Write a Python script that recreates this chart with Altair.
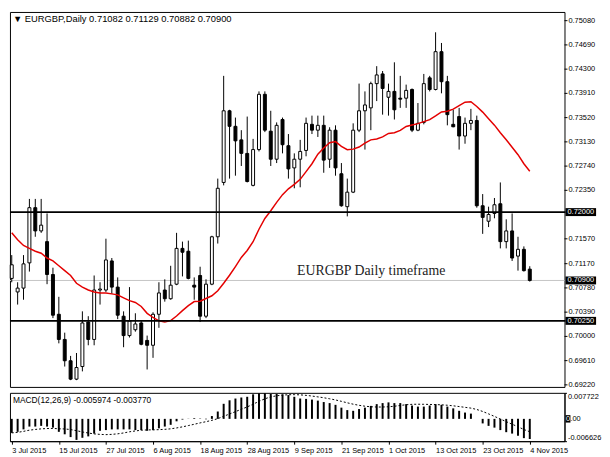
import altair as alt
import pandas as pd

# ---------------- data ----------------
opens = [0.70933,0.70715,0.70777,0.71183,0.72071,0.71697,0.71525,0.70996,0.70356,0.69951,
         0.69608,0.69312,0.69515,0.70231,0.69951,0.70746,0.70746,0.71214,0.70793,0.70325,
         0.70013,0.70107,0.70216,0.69935,0.69857,0.70356,0.70746,0.70606,0.70840,0.71416,
         0.71370,0.70824,0.70980,0.70325,0.70840,0.71603,0.72477,0.73630,0.73380,0.73162,
         0.72944,0.72430,0.73006,0.73895,0.73302,0.72851,0.73490,0.73068,0.72711,0.72851,
         0.72992,0.73412,0.73318,0.73396,0.72851,0.73318,0.72617,0.72087,0.72321,0.73318,
         0.73630,0.73677,0.74067,0.74223,0.73848,0.73942,0.73833,0.73833,0.73973,0.73318,
         0.73443,0.74160,0.73973,0.74581,0.74098,0.73412,0.73537,0.73224,0.73428,0.73474,
         0.72102,0.71853,0.71978,0.72134,0.71525,0.71697,0.71292,0.71401,0.71082]
highs = [0.71308,0.70871,0.71308,0.72212,0.72212,0.72212,0.71978,0.71105,0.70637,0.70060,
         0.69686,0.69733,0.70403,0.70325,0.70980,0.70871,0.71572,0.71261,0.70949,0.70403,
         0.70793,0.70372,0.70263,0.70013,0.70388,0.70871,0.70918,0.71136,0.71666,0.71525,
         0.71541,0.70949,0.71121,0.70918,0.71619,0.72539,0.74192,0.73646,0.73521,0.73318,
         0.73537,0.73178,0.73942,0.73942,0.73630,0.73443,0.73521,0.73256,0.72945,0.73162,
         0.73521,0.73552,0.73552,0.73552,0.73365,0.73396,0.72789,0.72539,0.73428,0.74067,
         0.73942,0.74098,0.74348,0.74270,0.74067,0.74410,0.74192,0.74051,0.73989,0.73755,
         0.74223,0.74192,0.74893,0.74721,0.74192,0.73646,0.73677,0.73521,0.73661,0.73552,
         0.72290,0.72087,0.72227,0.72477,0.71884,0.71978,0.71603,0.71448,0.71129]
lows = [0.70871,0.70512,0.70590,0.71043,0.71603,0.71666,0.70840,0.70294,0.69888,0.69515,
        0.69296,0.69296,0.69437,0.69857,0.69857,0.70512,0.70715,0.70684,0.70278,0.69826,
        0.69982,0.70076,0.69857,0.69468,0.69655,0.70138,0.70559,0.70590,0.70824,0.70965,
        0.70918,0.70590,0.70231,0.70294,0.70824,0.71494,0.72430,0.72539,0.72586,0.72742,
        0.72477,0.72414,0.72976,0.73287,0.72742,0.72789,0.72945,0.72539,0.72383,0.72399,
        0.72898,0.73256,0.73209,0.72633,0.72711,0.72586,0.72087,0.71931,0.72306,0.73287,
        0.73006,0.73318,0.73786,0.73568,0.73552,0.73490,0.73677,0.73677,0.73287,0.73302,
        0.73412,0.73942,0.73958,0.73911,0.73396,0.73365,0.73006,0.73100,0.73318,0.72071,
        0.71650,0.71759,0.71900,0.71416,0.71416,0.71214,0.71058,0.71043,0.70882]
closes = [0.71152,0.70777,0.71167,0.72071,0.71697,0.71790,0.70996,0.70341,0.69951,0.69608,
          0.69312,0.69499,0.70216,0.69951,0.70746,0.70762,0.71230,0.70793,0.70341,0.70013,
          0.70247,0.70200,0.69873,0.69857,0.70356,0.70699,0.70606,0.70824,0.71416,0.71354,
          0.70933,0.70793,0.70325,0.70840,0.71603,0.72383,0.73630,0.73380,0.73146,0.72945,
          0.72492,0.73006,0.73895,0.73318,0.72851,0.73396,0.73084,0.72695,0.72851,0.72976,
          0.73428,0.73318,0.73396,0.72836,0.73318,0.72711,0.72102,0.72321,0.73318,0.73630,
          0.73724,0.74067,0.74207,0.73989,0.73942,0.73646,0.73817,0.73958,0.73318,0.73428,
          0.74067,0.73973,0.74581,0.74098,0.73568,0.73373,0.73224,0.73428,0.73474,0.72102,
          0.71915,0.71962,0.72118,0.71525,0.71697,0.71261,0.71401,0.71058,0.70900]
# 20-period MA values for the first 19 bars (history before the visible window)
ma_head = [0.71666,0.71556,0.71463,0.71416,0.71370,0.71339,0.71261,0.71214,0.71136,0.71058,
           0.70980,0.70855,0.70793,0.70746,0.70715,0.70699,0.70699,0.70684,0.70668]
macd_hist = [-0.00416,-0.00385,-0.00312,-0.00229,-0.00229,-0.00208,-0.00229,-0.00260,-0.00385,-0.00458,
             -0.00541,-0.00624,-0.00562,-0.00520,-0.00437,-0.00354,-0.00333,-0.00312,-0.00312,-0.00312,
             -0.00312,-0.00333,-0.00333,-0.00354,-0.00333,-0.00281,-0.00229,-0.00177,-0.00073,-0.00020,
             0.00005,0.00020,0.00010,-0.00010,0.00083,0.00218,0.00447,0.00551,0.00603,0.00634,
             0.00655,0.00728,0.00759,0.00759,0.00738,0.00738,0.00728,0.00707,0.00655,0.00603,
             0.00593,0.00572,0.00541,0.00499,0.00468,0.00416,0.00333,0.00260,0.00239,0.00291,
             0.00333,0.00385,0.00437,0.00468,0.00489,0.00468,0.00468,0.00437,0.00395,0.00364,
             0.00364,0.00395,0.00437,0.00416,0.00364,0.00312,0.00239,0.00187,0.00156,0.00000,
             -0.00135,-0.00208,-0.00260,-0.00333,-0.00395,-0.00437,-0.00500,-0.00572,-0.005974]

levels = [0.72000, 0.70250]
bid = 0.70900
price_ticks = [0.75080, 0.74690, 0.74300, 0.73910, 0.73520, 0.73130, 0.72740, 0.72350,
               0.71570, 0.71170, 0.70780, 0.70390, 0.70000, 0.69610, 0.69220]
macd_ticks = [0.007722, 0.0, -0.006626]
macd_tick_labels = ["0.007722", "", "-0.006626"]
date_idx = [0, 8, 16, 24, 32, 40, 48, 56, 64, 72, 80, 88]
date_labels = ["3 Jul 2015", "15 Jul 2015", "27 Jul 2015", "6 Aug 2015", "18 Aug 2015",
               "28 Aug 2015", "9 Sep 2015", "21 Sep 2015", "1 Oct 2015", "13 Oct 2015",
               "23 Oct 2015", "4 Nov 2015"]
title_text = "\u25bc EURGBP,Daily  0.71082 0.71129 0.70882 0.70900"
macd_text = "MACD(12,26,9) -0.005974 -0.003770"
note_text = "EURGBP Daily timeframe"

# ---------------- table ----------------
n = len(closes)
df = pd.DataFrame({"i": list(range(n)), "open": opens, "high": highs, "low": lows,
                   "close": closes, "hist": macd_hist})
ma = pd.Series(closes).rolling(20).mean()
ma.iloc[:len(ma_head)] = ma_head
df["ma"] = ma
df["signal"] = pd.Series(macd_hist).rolling(9, min_periods=1).mean()

W, H, H2 = 562, 380, 49
FONT = "Liberation Sans"
FS = 7.5
xscale = alt.Scale(domain=[-0.3, 93.9], nice=False, zero=False, padding=0)
yscale = alt.Scale(domain=[0.69187, 0.75220], nice=False, zero=False)
mscale = alt.Scale(domain=[-0.006626, 0.007722], nice=False, zero=False)

base = alt.Chart(df)

# ---------------- main panel ----------------
bidline = alt.Chart(pd.DataFrame({"p": [bid]})).mark_rule(color="#c4c4c4", strokeWidth=1).encode(
    y=alt.Y("p:Q", scale=yscale, axis=None), x=alt.value(0), x2=alt.value(W))

wick = base.mark_rule(color="black", strokeWidth=1).encode(
    x=alt.X("i:Q", scale=xscale, axis=None),
    y=alt.Y("low:Q", scale=yscale, axis=None),
    y2="high:Q")

body = base.mark_bar(size=3, stroke="black", strokeWidth=1).encode(
    x=alt.X("i:Q", scale=xscale, axis=None), y="open:Q", y2="close:Q",
    fill=alt.condition("datum.close >= datum.open", alt.value("white"), alt.value("black")))

maline = base.mark_line(color="#e40000", strokeWidth=1.5).encode(
    x=alt.X("i:Q", scale=xscale, axis=None), y="ma:Q")

levline = alt.Chart(pd.DataFrame({"p": levels})).mark_rule(color="black", strokeWidth=1.6).encode(
    y="p:Q", x=alt.value(0), x2=alt.value(W + 1))

# price scale on the right, drawn as tick rules and text labels
tick_df = pd.DataFrame({"p": price_ticks})
tick_df["label"] = tick_df["p"].map(lambda v: "%.5f" % v)
pticks = alt.Chart(tick_df).mark_rule(color="black", strokeWidth=1).encode(
    y="p:Q", x=alt.value(W), x2=alt.value(W + 3))
plabels = alt.Chart(tick_df).mark_text(color="black", align="left", baseline="middle",
                                       font=FONT, fontSize=FS).encode(
    x=alt.value(W + 4), y="p:Q", text="label:N")

box_df = pd.DataFrame({"p": levels + [bid]})
box_df["label"] = box_df["p"].map(lambda v: "%.5f" % v)
boxes = alt.Chart(box_df).transform_calculate(
    lo="datum.p - 0.00064", hi="datum.p + 0.00064").mark_rect(color="black").encode(
    x=alt.value(W + 1), x2=alt.value(W + 32), y="lo:Q", y2="hi:Q")
boxtext = alt.Chart(box_df).mark_text(color="white", align="left", baseline="middle",
                                      font=FONT, fontSize=FS).encode(
    x=alt.value(W + 3), y="p:Q", text="label:N")

title = alt.Chart(pd.DataFrame({"t": [title_text]})).mark_text(
    align="left", baseline="middle", font=FONT, fontSize=9.5, color="black").encode(
    x=alt.value(3), y=alt.value(7), text="t:N")

note = alt.Chart(pd.DataFrame({"t": [note_text]})).mark_text(
    align="left", baseline="alphabetic", font="Liberation Serif", fontSize=14,
    color="#222222").encode(x=alt.value(291), y=alt.value(267), text="t:N")

main = alt.layer(bidline, wick, body, maline, levline, pticks, plabels, boxes, boxtext,
                 title, note).properties(width=W, height=H)

# ---------------- MACD panel ----------------
lab_js = "[" + ",".join("'%s'" % s for s in date_labels) + "]"
idx_js = "[" + ",".join(str(v) for v in date_idx) + "]"
mlab_js = "[" + ",".join("'%s'" % s for s in macd_tick_labels) + "]"
mval_js = "[" + ",".join(repr(v) for v in macd_ticks) + "]"

xaxis = alt.Axis(values=date_idx, labelExpr=f"{lab_js}[indexof({idx_js}, datum.value)]",
                 labelAlign="left", labelPadding=2, tickSize=3, labelOverlap=False,
                 labelFlush=False)
maxis = alt.Axis(orient="right", values=macd_ticks,
                 labelExpr=f"{mlab_js}[indexof({mval_js}, datum.value)]",
                 labelFlush=True, tickSize=2, labelPadding=1, labelOverlap=False)

hist = base.mark_bar(size=2, color="black").encode(
    x=alt.X("i:Q", scale=xscale, title=None, axis=xaxis),
    y=alt.Y("hist:Q", scale=mscale, title=None, axis=maxis),
    y2=alt.datum(0))

signal = base.mark_line(color="black", strokeDash=[2, 2], strokeWidth=1).encode(
    x=alt.X("i:Q", scale=xscale, title=None, axis=xaxis), y="signal:Q")

zero_df = pd.DataFrame({"v": [0.0]})
zbox = alt.Chart(zero_df).transform_calculate(lo="datum.v - 0.0011", hi="datum.v + 0.0011").mark_rect(
    color="black").encode(x=alt.value(W + 1), x2=alt.value(W + 6), y="lo:Q", y2="hi:Q")
ztext0 = alt.Chart(zero_df).mark_text(color="white", align="left", baseline="middle",
                                      font=FONT, fontSize=FS).encode(
    x=alt.value(W + 1.5), y="v:Q", text=alt.value("0"))
ztext1 = alt.Chart(zero_df).mark_text(color="black", align="left", baseline="middle",
                                      font=FONT, fontSize=FS).encode(
    x=alt.value(W + 6), y="v:Q", text=alt.value(".00"))

mtitle = alt.Chart(pd.DataFrame({"t": [macd_text]})).mark_text(
    align="left", baseline="middle", font=FONT, fontSize=8.5, color="black").encode(
    x=alt.value(3), y=alt.value(7), text="t:N")

macd = alt.layer(hist, signal, zbox, ztext0, ztext1, mtitle).properties(width=W, height=H2)

chart = alt.vconcat(main, macd, spacing=3).properties(
    padding={"left": 0, "top": 0, "right": 0, "bottom": 0}, background="white"
).configure_view(stroke="black", strokeWidth=1).configure_axis(
    labelFont=FONT, labelFontSize=FS, labelColor="black", tickColor="black",
    domainColor="black", grid=False, labelOverlap=False
).configure_scale(continuousPadding=0)

chart.save("out.html", embed_options={"renderer": "svg", "actions": False})
